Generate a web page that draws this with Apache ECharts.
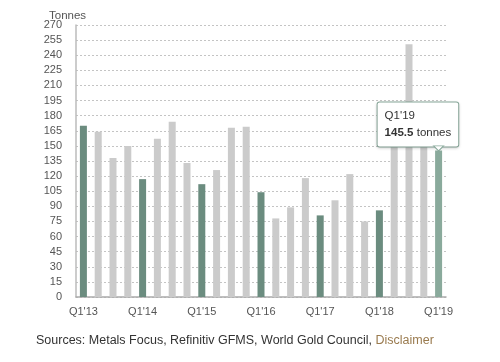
<!DOCTYPE html>
<html><head><meta charset="utf-8">
<script src="https://cdn.jsdelivr.net/npm/echarts@6/dist/echarts.min.js"></script>
<style>html,body{margin:0;padding:0;background:#fff}#c{width:500px;height:362px}</style>
</head><body><div id="c"></div>
<script>
var categories = ["Q1'13","Q2'13","Q3'13","Q4'13","Q1'14","Q2'14","Q3'14","Q4'14","Q1'15","Q2'15","Q3'15","Q4'15","Q1'16","Q2'16","Q3'16","Q4'16","Q1'17","Q2'17","Q3'17","Q4'17","Q1'18","Q2'18","Q3'18","Q4'18","Q1'19"];
var values = [170,164,138,150,117,157,174,133,112,126,168,169,104,78,89,118,81,96,122,75,86,158,251,166,145.5];
var yTicks = {min:0, max:270, interval:15};
var unitLabel = 'Tonnes';
var sourceText = 'Sources: Metals Focus, Refinitiv GFMS, World Gold Council, ';

var DARK = '#6b8c7f', LIGHT = '#cbcbcb', HI = '#8aaa9c';
var last = values.length - 1;
var data = values.map(function(v,i){
  var c = (i === last) ? HI : (i % 4 === 0 ? DARK : LIGHT);
  var d = {value:v, itemStyle:{color:c}};
  if (i === last) {
    d.label = {
      show:true, position:'top', offset:[-61,1], distance:5,
      formatter: '{n|' + categories[i] + '}\n{b|' + v + '} {n|tonnes}',
      backgroundColor:'#fff', borderColor:HI, borderWidth:1, borderRadius:2,
      padding:[5,7,5,7], align:'left',
      shadowColor:'rgba(0,0,0,0.15)', shadowBlur:3, shadowOffsetY:1,
      rich:{
        n:{fontSize:11.5, color:'#333', fontFamily:'Liberation Sans, Arial', lineHeight:17},
        b:{fontSize:11.5, color:'#333', fontWeight:'bold', fontFamily:'Liberation Sans, Arial', lineHeight:17}
      }
    };
  }
  return d;
});

var chart = echarts.init(document.getElementById('c'), null, {renderer:'canvas'});
chart.setOption({
  animation:false,
  title:{text:unitLabel, left:44, top:5, textStyle:{fontSize:11.5, fontWeight:'normal', color:'#555', fontFamily:'Liberation Sans, Arial'}},
  grid:{left:76, right:54, top:25, bottom:65},
  xAxis:{type:'category', data:categories,
    axisLine:{lineStyle:{color:'#aaa', width:1.5}}, axisTick:{show:false},
    axisLabel:{interval:3, color:'#555', fontSize:11, margin:9, fontFamily:'Liberation Sans, Arial'}},
  yAxis:{type:'value', min:yTicks.min, max:yTicks.max, interval:yTicks.interval,
    axisLine:{show:true, lineStyle:{color:'#bbb', width:1.5}}, axisTick:{show:false},
    splitLine:{lineStyle:{color:'#c4c4c4', type:[2,2], width:1}},
    axisLabel:{color:'#555', fontSize:11, margin:14, fontFamily:'Liberation Sans, Arial'}},
  series:[{type:'bar', data:data, barWidth:7,
    markPoint:{silent:true, data:[{coord:[last, values[last]], symbol:'triangle', symbolRotate:180, symbolSize:[10,5], symbolOffset:[0,-2],
      itemStyle:{color:'#fff', borderColor:HI, borderWidth:1}, label:{show:false}}]}
  }],
  graphic:[{type:'text', left:36, top:334, style:{
    text: sourceText + '{d|Disclaimer}',
    font:'12.5px Liberation Sans, Arial', fill:'#333',
    rich:{d:{fill:'#9a7b4f', font:'12.5px Liberation Sans, Arial'}}
  }}]
});
</script></body></html>
